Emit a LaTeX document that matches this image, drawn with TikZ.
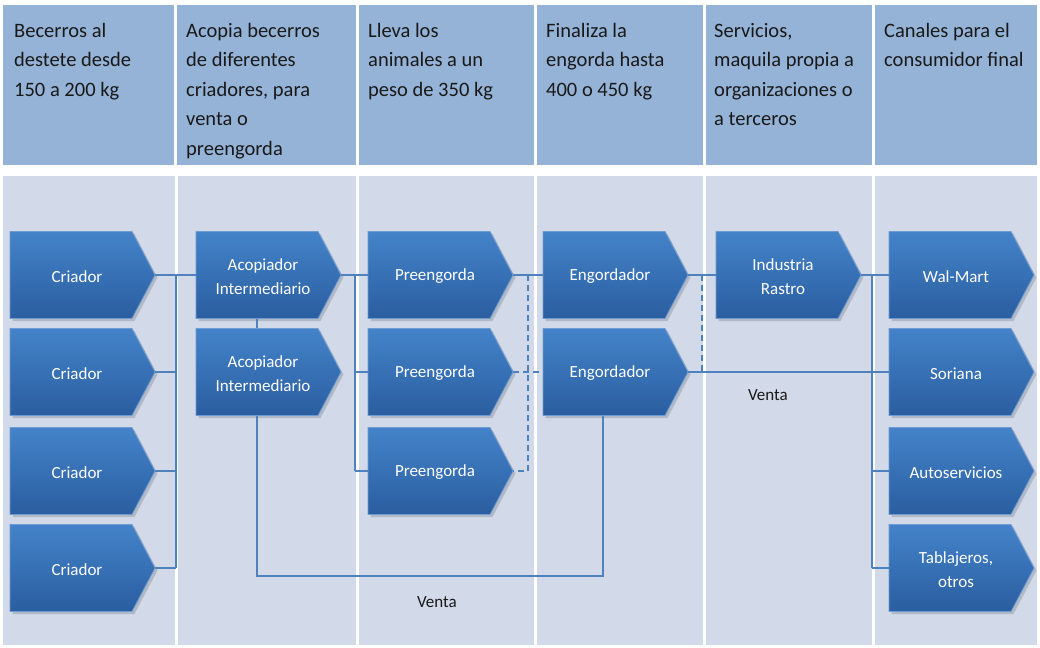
\documentclass[tikz,border=0pt]{standalone}
\usepackage{fontspec}
\setmainfont{Carlito}
\definecolor{headblue}{RGB}{149,179,215}
\definecolor{lowblue}{RGB}{210,218,233}
\definecolor{chtop}{RGB}{68,131,201}
\definecolor{chmid}{RGB}{42,110,186}
\definecolor{chbot}{RGB}{42,94,160}
\definecolor{chborder}{RGB}{110,155,210}
\definecolor{connblue}{RGB}{79,129,189}
\definecolor{txtdark}{RGB}{25,25,25}
\newcommand\chev[4]{%
  \fill[black,opacity=0.15] (#2+2.5,#3-41) -- ++(122,0) -- ++(23,43.5) -- ++(-23,43.5) -- ++(-122,0) -- cycle;
  \shade[top color=chtop, middle color=chmid, bottom color=chbot, draw=chborder, line width=0.8pt]
    (#2,#3-43.5) -- ++(122,0) -- ++(23,43.5) -- ++(-23,43.5) -- ++(-122,0) -- cycle;
  \node[chbox] (#1) at (#2+72.5,#3) {};%
  \node[chlabel] (#1-t) at (#2+67,#3+1.5) {#4};%
}
\begin{document}
\begin{tikzpicture}[x=1pt,y=-1pt,
  colhead/.style={fill=headblue},
  collow/.style={fill=lowblue},
  htext/.style={anchor=north west, align=left, text=txtdark, inner sep=0pt,
    font=\fontsize{20.5}{29.5}\selectfont},
  chbox/.style={minimum width=145pt, minimum height=87pt, inner sep=0pt},
  chlabel/.style={inner sep=0pt, text=white, align=center,
    font=\fontsize{17}{24}\selectfont},
  conn/.style={draw=connblue, line width=1.6pt},
  dconn/.style={draw=connblue, line width=1.6pt, dash pattern=on 6pt off 4pt},
  venta/.style={text=txtdark, font=\fontsize{17}{20}\selectfont}
]
\useasboundingbox (0,0) rectangle (1040,647);
\fill[white] (0,0) rectangle (1040,647);
% header columns
\fill[colhead] (3,5) rectangle (174,165);
\fill[colhead] (177,5) rectangle (356,165);
\fill[colhead] (359,5) rectangle (534,165);
\fill[colhead] (537,5) rectangle (703,165);
\fill[colhead] (706,5) rectangle (872,165);
\fill[colhead] (875,5) rectangle (1037,165);
% lower columns
\fill[collow] (3,176) rectangle (174.5,645);
\fill[collow] (177.5,176) rectangle (355.5,645);
\fill[collow] (358.5,176) rectangle (533.5,645);
\fill[collow] (536.5,176) rectangle (703,645);
\fill[collow] (706,176) rectangle (872,645);
\fill[collow] (875,176) rectangle (1037,645);
% header texts
\node[htext] (h1) at (14,23) {Becerros al\\destete desde\\150 a 200 kg};
\node[htext] (h2) at (186,23) {Acopia becerros\\de diferentes\\criadores, para\\venta o\\preengorda};
\node[htext] (h3) at (368,23) {Lleva los\\animales a un\\peso de 350 kg};
\node[htext] (h4) at (546,23) {Finaliza la\\engorda hasta\\400 o 450 kg};
\node[htext] (h5) at (714,23) {Servicios,\\maquila propia a\\organizaciones o\\a terceros};
\node[htext] (h6) at (884,23) {Canales para el\\consumidor final};
% chevrons
\chev{c1}{10}{275}{Criador}
\chev{c2}{10}{372}{Criador}
\chev{c3}{10}{471}{Criador}
\chev{c4}{10}{568}{Criador}
\chev{a1}{196}{275}{Acopiador\\Intermediario}
\chev{a2}{196}{372}{Acopiador\\Intermediario}
\chev{p1}{368}{275}{Preengorda}
\chev{p2}{368}{372}{Preengorda}
\chev{p3}{368}{471}{Preengorda}
\chev{e1}{543}{275}{Engordador}
\chev{e2}{543}{372}{Engordador}
\chev{i1}{716}{275}{Industria\\Rastro}
\chev{s1}{889}{275}{Wal-Mart}
\chev{s2}{889}{372}{Soriana}
\chev{s3}{889}{471}{Autoservicios}
\chev{s4}{889}{568}{Tablajeros,\\otros}
% bus coordinates
\coordinate (bus1) at (176,0);
\coordinate (bus2) at (355,0);
\coordinate (d1) at (528,0);
\coordinate (d2) at (702,0);
\coordinate (bus3) at (872,0);
\coordinate (v1) at (257,0);
\coordinate (v2) at (603,0);
\coordinate (venb) at (0,576);
% connectors column 1 -> 2
\draw[conn] (c1.east) -- (a1.west);
\draw[conn] (c2.east) -- (c2.east -| bus1);
\draw[conn] (c3.east) -- (c3.east -| bus1);
\draw[conn] (c4.east) -- (c4.east -| bus1);
\draw[conn] (c1.east -| bus1) -- (c4.east -| bus1);
\draw[conn] (a1.south -| v1) -- (a2.north -| v1);
\draw[conn] (a2.south -| v1) -- (v1 |- venb) -- (v2 |- venb) -- (e2.south -| v2);
% column 2 -> 3
\draw[conn] (a1.east) -- (p1.west);
\draw[conn] (a1.east -| bus2) -- (p3.west -| bus2);
\draw[conn] (p2.west -| bus2) -- (p2.west);
\draw[conn] (p3.west -| bus2) -- (p3.west);
% column 3 -> 4
\draw[conn] (p1.east) -- (e1.west);
\draw[dconn] (p1.east -| d1) -- (p3.east -| d1) -- (p3.east);
\draw[dconn] (p2.east) -- (e2.west);
% column 4 -> 5
\draw[conn] (e1.east) -- (i1.west);
\draw[dconn] (e1.east -| d2) -- (e2.east -| d2);
\draw[conn] (e2.east) -- (s2.west);
% column 5 -> 6
\draw[conn] (i1.east) -- (s1.west);
\draw[conn] (s1.west -| bus3) -- (s4.west -| bus3);
\draw[conn] (s3.west -| bus3) -- (s3.west);
\draw[conn] (s4.west -| bus3) -- (s4.west);
% labels
\node[venta] (venta1) at (768,395) {Venta};
\node[venta] (venta2) at (437,602) {Venta};
\end{tikzpicture}
\end{document}
